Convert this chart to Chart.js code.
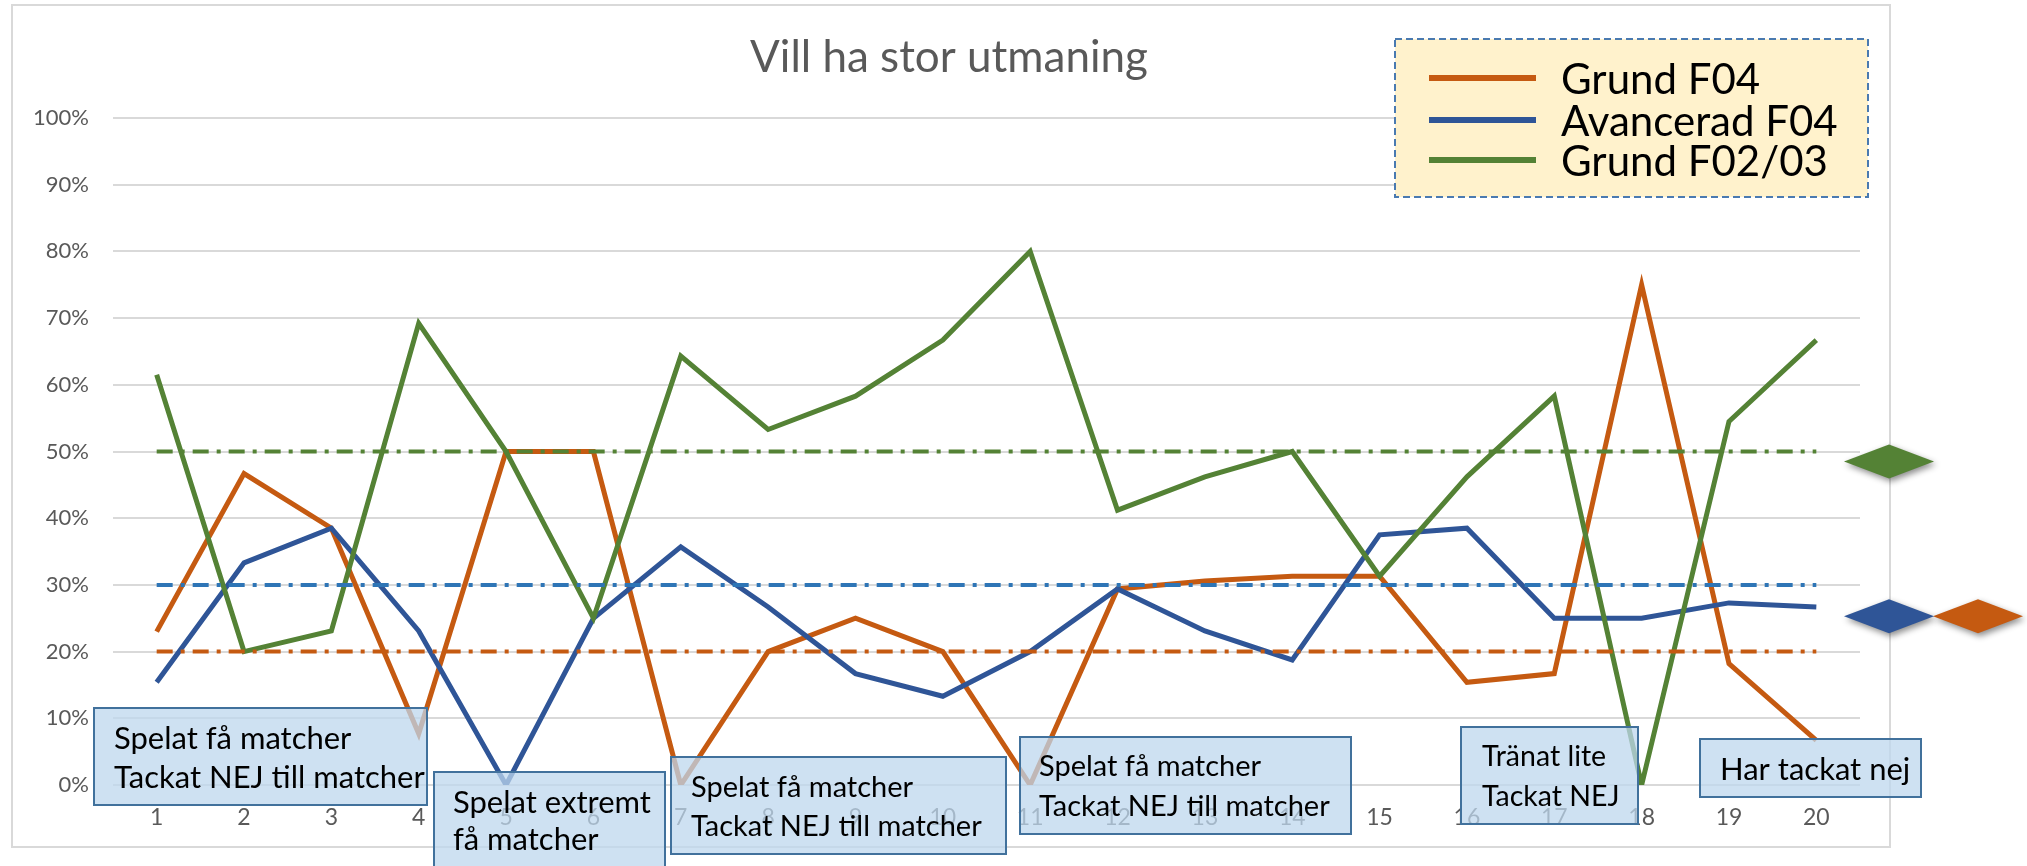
<!DOCTYPE html>
<html><head><meta charset="utf-8">
<script src="https://cdn.jsdelivr.net/npm/chart.js@4.4.1/dist/chart.umd.min.js"></script>
<style>html,body{margin:0;padding:0;background:#fff;} canvas{display:block;}</style>
</head><body>
<canvas id="c" width="2027" height="866"></canvas>
<script>
// ---- data ----
const categories = ['1','2','3','4','5','6','7','8','9','10','11','12','13','14','15','16','17','18','19','20'];
const seriesNames = ['Grund F04', 'Avancerad F04', 'Grund F02/03'];
const grundF04     = [0.23, 0.467, 0.385, 0.077, 0.5, 0.5, 0, 0.2, 0.25, 0.2, 0, 0.294, 0.306, 0.313, 0.313, 0.154, 0.167, 0.75, 0.182, 0.067];
const avanceradF04 = [0.154, 0.333, 0.385, 0.231, 0, 0.25, 0.357, 0.267, 0.167, 0.133, 0.2, 0.294, 0.231, 0.1875, 0.375, 0.385, 0.25, 0.25, 0.273, 0.267];
const grundF0203   = [0.615, 0.2, 0.231, 0.692, 0.5, 0.25, 0.643, 0.533, 0.583, 0.667, 0.8, 0.412, 0.462, 0.5, 0.313, 0.462, 0.583, 0, 0.545, 0.667];
const targetLevels = [0.2, 0.3, 0.5];          // Grund F04, Avancerad F04, Grund F02/03
const markerLevels = [0.253, 0.253, 0.485];    // diamonds at the right
const yTickLabels  = ['0%','10%','20%','30%','40%','50%','60%','70%','80%','90%','100%'];
const chartTitle   = 'Vill ha stor utmaning';
const noteTexts = [
  ['Spelat få matcher', 'Tackat NEJ till matcher'],
  ['Spelat extremt', 'få matcher'],
  ['Spelat få matcher', 'Tackat NEJ till matcher'],
  ['Spelat få matcher', 'Tackat NEJ till matcher'],
  ['Tränat lite', 'Tackat NEJ'],
  ['Har tackat nej']
];

// ---- styles / layout ----
const FONT = 'Lato, "Open Sans", sans-serif';
const colors = ['#c55a11', '#2f5597', '#548235'];
const targetColors = ['#c55a11', '#2e75b6', '#548235'];
const noteLayout = [ // x, y, w, h, textX, line centers, font size
  {x:94,  y:708, w:333, h:97, tx:114,  ly:[739, 778], fs:31},
  {x:434, y:772, w:231, h:110, tx:453, ly:[803, 840], fs:31},
  {x:671, y:757, w:335, h:97, tx:691,  ly:[788, 827], fs:29},
  {x:1020,y:737, w:331, h:97, tx:1039, ly:[767, 807], fs:29},
  {x:1461,y:727, w:177, h:97, tx:1482, ly:[757, 797], fs:28.5},
  {x:1700,y:739, w:221, h:58, tx:1720, ly:[770], fs:31}
];

const decor = {
  id: 'decor',
  beforeDraw(chart) {
    const c = chart.ctx;
    c.save();
    c.fillStyle = '#fff';
    c.fillRect(0, 0, chart.width, chart.height);
    c.strokeStyle = '#d9d9d9';
    c.lineWidth = 2;
    c.strokeRect(12, 5, 1878, 842);
    c.restore();
  },
  afterDatasetsDraw(chart) {
    const c = chart.ctx, xs = chart.scales.x, ys = chart.scales.y;
    const x0 = xs.getPixelForValue(0), x1 = xs.getPixelForValue(categories.length - 1);
    c.save();
    c.lineWidth = 4;
    c.setLineDash([16, 8, 4, 8]);
    targetLevels.forEach((lv, i) => {
      const y = ys.getPixelForValue(lv);
      c.strokeStyle = targetColors[i];
      c.beginPath(); c.moveTo(x0, y); c.lineTo(x1, y); c.stroke();
    });
    c.restore();
  },
  afterDraw(chart) {
    const c = chart.ctx, ys = chart.scales.y;
    c.save();
    // title
    c.fillStyle = '#595959';
    c.font = '44px ' + FONT;
    c.textAlign = 'center'; c.textBaseline = 'middle';
    c.fillText(chartTitle, 949, 58);
    // legend
    c.fillStyle = '#fff2cc';
    c.fillRect(1395, 39, 473, 158);
    c.setLineDash([7, 4]);
    c.strokeStyle = '#4a7ab0'; c.lineWidth = 2;
    c.strokeRect(1395, 39, 473, 158);
    c.setLineDash([]);
    const ly = [78, 120, 160];
    chart.data.datasets.forEach((ds, i) => {
      c.strokeStyle = ds.borderColor; c.lineWidth = 6;
      c.beginPath(); c.moveTo(1429, ly[i]); c.lineTo(1536, ly[i]); c.stroke();
      c.fillStyle = '#000'; c.font = '42px ' + FONT;
      c.textAlign = 'left'; c.textBaseline = 'middle';
      c.fillText(ds.label, 1561, ly[i] + 2);
    });
    // diamonds
    const dpos = [{x:1978, i:0}, {x:1889, i:1}, {x:1889, i:2}];
    dpos.forEach(d => {
      const y = ys.getPixelForValue(markerLevels[d.i]);
      c.save();
      c.shadowColor = 'rgba(0,0,0,0.45)'; c.shadowBlur = 6; c.shadowOffsetX = 2; c.shadowOffsetY = 3;
      c.fillStyle = colors[d.i];
      c.beginPath();
      c.moveTo(d.x - 45, y); c.lineTo(d.x, y - 17); c.lineTo(d.x + 45, y); c.lineTo(d.x, y + 17);
      c.closePath(); c.fill();
      c.restore();
    });
    // notes
    noteTexts.forEach((lines, k) => {
      const L = noteLayout[k];
      c.fillStyle = 'rgba(189,215,238,0.75)';
      c.fillRect(L.x, L.y, L.w, L.h);
      c.strokeStyle = '#41719c'; c.lineWidth = 2;
      c.strokeRect(L.x, L.y, L.w, L.h);
      c.fillStyle = '#000'; c.font = L.fs + 'px ' + FONT;
      c.textAlign = 'left'; c.textBaseline = 'middle';
      lines.forEach((t, j) => c.fillText(t, L.tx, L.ly[j]));
    });
    c.restore();
  }
};

const seriesData = [grundF04, avanceradF04, grundF0203];
new Chart(document.getElementById('c'), {
  type: 'line',
  data: {
    labels: categories,
    datasets: seriesData.map((d, i) => ({
      label: seriesNames[i], data: d, borderColor: colors[i], backgroundColor: colors[i],
      borderWidth: 5, pointRadius: 0, tension: 0, fill: false, order: 3 - i
    }))
  },
  options: {
    responsive: false, animation: false,
    layout: {padding: {left: 0, top: 118, right: 167, bottom: 21}},
    plugins: {legend: {display: false}, title: {display: false}, tooltip: {enabled: false}},
    scales: {
      x: {
        offset: true,
        grid: {display: false, drawTicks: false, offset: true}, border: {display: false},
        ticks: {color: '#595959', font: {family: FONT, size: 23}, padding: 19, maxRotation: 0, autoSkip: false},
        afterFit(s) { s.height = 60; }
      },
      y: {
        min: 0, max: 1,
        ticks: {stepSize: 0.1, color: '#595959', font: {family: FONT, size: 22}, padding: 24,
                callback: (v, i) => yTickLabels[i]},
        grid: {color: '#d9d9d9', lineWidth: 2, drawTicks: false}, border: {display: false},
        afterFit(s) { s.width = 113; }
      }
    }
  },
  plugins: [decor]
});
</script>
</body></html>
